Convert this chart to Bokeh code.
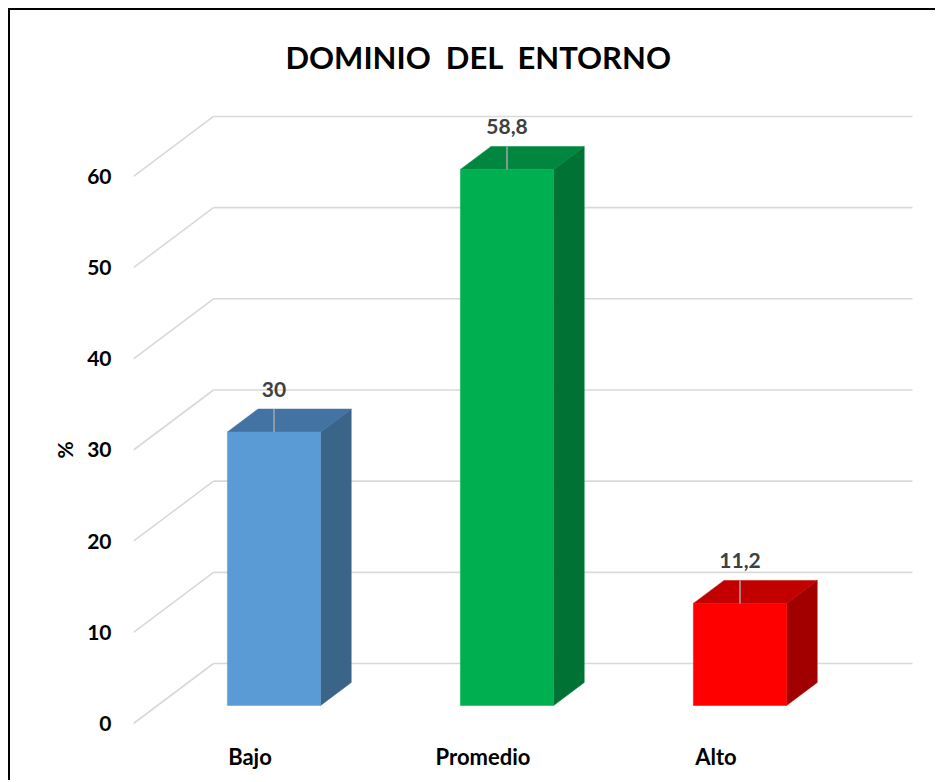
import math
from bokeh.plotting import figure
from bokeh.models import Range1d, FixedTicker, Title
from bokeh.embed import file_html
from bokeh.resources import INLINE
from bokeh.core.properties import value

# ---- data ----
categories = ["Bajo", "Promedio", "Alto"]
values = [30, 58.8, 11.2]
value_labels = ["30", "58,8", "11,2"]
y_ticks = [0, 10, 20, 30, 40, 50, 60]
title_text = "DOMINIO \u00a0DEL \u00a0ENTORNO"
y_label = "%"

# ---- styles ----
front_colors = ["#5B9BD5", "#00B050", "#FF0000"]
top_colors = ["#4373A2", "#00863E", "#C20000"]
side_colors = ["#3A6488", "#007334", "#A00000"]
grid_color = "#D9D9D9"
FONT = "Lato"

# ---- 3D geometry (in data units) ----
PX_X = 233.0      # pixels per category
PX_Y = 9.117      # pixels per value unit
DX = 80 / PX_X    # full depth offset, x
DY = 60 / PX_Y    # full depth offset, y
D_FRONT = 0.30    # depth of bar front face
D_BACK = 0.683    # depth of bar back face
BAR_W = 0.40      # bar width (category units)

n = len(categories)
x0 = -0.5
x_wall_end = x0 + n + DX

p = figure(width=927, height=772,
           x_range=Range1d(-0.5, -0.5 + 781 / PX_X),
           y_range=Range1d(-7 / PX_Y, 623 / PX_Y),
           output_backend="svg", toolbar_location=None,
           min_border_left=123, min_border_right=23,
           min_border_top=90, min_border_bottom=52)
p.styles = {"margin-left": "8px", "margin-top": "8px",
            "border-left": "2px solid black", "border-top": "2px solid black"}
p.outline_line_color = None
p.xgrid.visible = False
p.ygrid.visible = False
p.background_fill_color = "white"
p.border_fill_color = "white"

# title
p.title.text = title_text
p.title.text_font = FONT
p.title.text_font_size = "31px"
p.title.text_font_style = "bold"
p.title.text_color = "black"
p.title.align = "left"
p.title.offset = 152
p.title.standoff = 50

# gridlines: diagonal side wall + back wall
gy = list(y_ticks)
p.segment(x0=[x0] * len(gy), y0=gy, x1=[x0 + DX] * len(gy), y1=[v + DY for v in gy],
          line_color=grid_color, line_width=1.6)
p.segment(x0=[x0 + DX] * len(gy), y0=[v + DY for v in gy], x1=[x_wall_end] * len(gy),
          y1=[v + DY for v in gy], line_color=grid_color, line_width=1.6)

# bars
fx, fy, sx, sy, tx, ty = [], [], [], [], [], []
for i, v in enumerate(values):
    xl1 = i - BAR_W / 2 + DX * D_FRONT
    xr1 = xl1 + BAR_W
    yb1 = DY * D_FRONT
    yt1 = v + DY * D_FRONT
    xl2 = i - BAR_W / 2 + DX * D_BACK
    xr2 = xl2 + BAR_W
    yb2 = DY * D_BACK
    yt2 = v + DY * D_BACK
    fx.append([xl1, xr1, xr1, xl1]); fy.append([yb1, yb1, yt1, yt1])
    sx.append([xr1, xr2, xr2, xr1]); sy.append([yb1, yb2, yt2, yt1])
    tx.append([xl1, xr1, xr2, xl2]); ty.append([yt1, yt1, yt2, yt2])

p.patches(xs=sx, ys=sy, fill_color=side_colors, line_color=side_colors, line_width=0.5)
p.patches(xs=tx, ys=ty, fill_color=top_colors, line_color=top_colors, line_width=0.5)
p.patches(xs=fx, ys=fy, fill_color=front_colors, line_color=front_colors, line_width=0.5)

# leader lines and value labels
cx = [i + DX * D_FRONT for i in range(n)]
p.segment(x0=cx, y0=[v + DY * D_FRONT for v in values], x1=cx,
          y1=[v + DY * D_BACK for v in values], line_color="#A6A6A6", line_width=1.5)
p.text(x=cx, y=[v + DY * D_BACK for v in values], text=value_labels,
       text_font=value(FONT), text_font_style="bold", text_font_size="21px",
       text_color="#404040", text_align="center", text_baseline="alphabetic",
       y_offset=-20)

# axes
p.yaxis.ticker = FixedTicker(ticks=y_ticks)
p.yaxis.axis_line_color = None
p.yaxis.major_tick_line_color = None
p.yaxis.minor_tick_line_color = None
p.yaxis.major_tick_out = 0
p.yaxis.major_label_standoff = 22
p.yaxis.major_label_text_font = FONT
p.yaxis.major_label_text_font_size = "21px"
p.yaxis.major_label_text_font_style = "bold"
p.yaxis.major_label_text_color = "black"

p.xaxis.ticker = FixedTicker(ticks=list(range(n)))
p.xaxis.major_label_overrides = {i: c for i, c in enumerate(categories)}
p.xaxis.axis_line_color = None
p.xaxis.major_tick_line_color = None
p.xaxis.minor_tick_line_color = None
p.xaxis.major_tick_out = 0
p.xaxis.major_label_standoff = 12
p.xaxis.major_label_text_font = FONT
p.xaxis.major_label_text_font_size = "22px"
p.xaxis.major_label_text_font_style = "bold"
p.xaxis.major_label_text_color = "black"

# y axis title "%" placed beside the value axis, level with its middle
p.add_layout(Title(text=y_label, align="left", offset=272, standoff=16,
                   text_font=FONT, text_font_size="21px", text_font_style="bold",
                   text_color="black"), "left")

open("out.html", "w").write(file_html(p, INLINE))
